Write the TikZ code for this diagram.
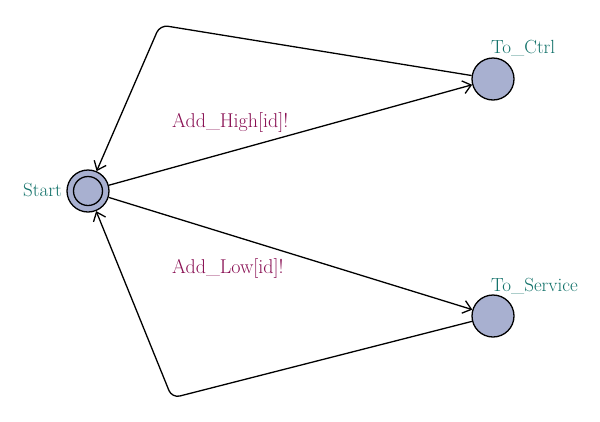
\documentclass[tikz,border=0pt]{standalone}
\usepackage{fontspec}
\usetikzlibrary{arrows.meta}
\definecolor{locfill}{RGB}{168,176,208}
\definecolor{loctext}{RGB}{16,112,104}
\definecolor{edgetext}{RGB}{136,14,82}
\tikzset{
  loc/.style={circle,draw=black,line width=1.3pt,fill=locfill,minimum size=42pt,inner sep=0pt},
  locname/.style={text=loctext,font=\fontsize{19}{22}\selectfont,inner sep=0pt},
  synclabel/.style={text=edgetext,font=\fontsize{20}{23}\selectfont,inner sep=0pt},
  trans/.style={line width=1.3pt,-{Straight Barb[length=8pt,width=13pt,line width=1.3pt]},rounded corners=8pt}
}
\begin{document}
\begin{tikzpicture}[x=1pt,y=-1pt]
\useasboundingbox (0,0) rectangle (600,421);
\node[loc] (start) at (88,191) {};
\draw[line width=1.3pt] (start.center) circle (14.5pt);
\node[loc] (ctrl) at (493,79) {};
\node[loc] (serv) at (493,316) {};
\coordinate (nailA) at (160,25);
\coordinate (nailB) at (172,398);
\node[locname,anchor=base east] (lstart) at (62,196) {Start};
\node[locname,anchor=base west] (lctrl) at (491,53) {To\_Ctrl};
\node[locname,anchor=base west] (lserv) at (491,291) {To\_Service};
\draw[trans] (start) -- (ctrl);
\draw[trans] (ctrl) -- (nailA) -- (start);
\draw[trans] (start) -- (serv);
\draw[trans] (serv) -- (nailB) -- (start);
\node[synclabel,anchor=base west] (lhigh) at (172,127) {Add\_High[id]!};
\node[synclabel,anchor=base west] (llow) at (172,273) {Add\_Low[id]!};
\end{tikzpicture}
\end{document}
